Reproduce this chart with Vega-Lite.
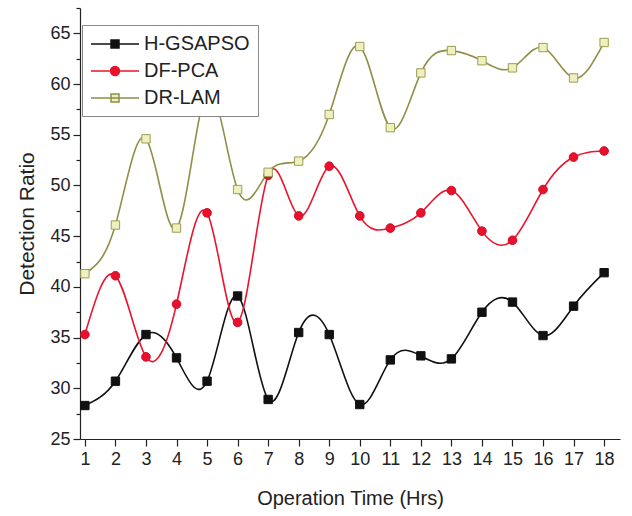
{
  "$schema": "https://vega.github.io/schema/vega-lite/v6.json",
  "width": 540,
  "height": 431,
  "autosize": {"type": "none"},
  "padding": {"left": 80, "top": 8, "right": 12, "bottom": 77},
  "background": "white",
  "config": {
    "view": {"stroke": null},
    "font": "Liberation Sans",
    "axis": {
      "grid": false,
      "domainColor": "#222",
      "tickColor": "#222",
      "labelColor": "#222",
      "titleColor": "#222",
      "labelFont": "Liberation Sans",
      "titleFont": "Liberation Sans",
      "titleFontWeight": "normal",
      "labelFontSize": 18,
      "domainWidth": 1.2,
      "tickWidth": 1.2
    }
  },
  "data": {
    "values": [
      {"t": 1, "series": "H-GSAPSO", "v": 28.3},
      {"t": 2, "series": "H-GSAPSO", "v": 30.7},
      {"t": 3, "series": "H-GSAPSO", "v": 35.3},
      {"t": 4, "series": "H-GSAPSO", "v": 33.0},
      {"t": 5, "series": "H-GSAPSO", "v": 30.7},
      {"t": 6, "series": "H-GSAPSO", "v": 39.1},
      {"t": 7, "series": "H-GSAPSO", "v": 28.9},
      {"t": 8, "series": "H-GSAPSO", "v": 35.5},
      {"t": 9, "series": "H-GSAPSO", "v": 35.3},
      {"t": 10, "series": "H-GSAPSO", "v": 28.4},
      {"t": 11, "series": "H-GSAPSO", "v": 32.8},
      {"t": 12, "series": "H-GSAPSO", "v": 33.2},
      {"t": 13, "series": "H-GSAPSO", "v": 32.9},
      {"t": 14, "series": "H-GSAPSO", "v": 37.5},
      {"t": 15, "series": "H-GSAPSO", "v": 38.5},
      {"t": 16, "series": "H-GSAPSO", "v": 35.2},
      {"t": 17, "series": "H-GSAPSO", "v": 38.1},
      {"t": 18, "series": "H-GSAPSO", "v": 41.4},
      {"t": 1, "series": "DF-PCA", "v": 35.3},
      {"t": 2, "series": "DF-PCA", "v": 41.1},
      {"t": 3, "series": "DF-PCA", "v": 33.1},
      {"t": 4, "series": "DF-PCA", "v": 38.3},
      {"t": 5, "series": "DF-PCA", "v": 47.3},
      {"t": 6, "series": "DF-PCA", "v": 36.5},
      {"t": 7, "series": "DF-PCA", "v": 51.0},
      {"t": 8, "series": "DF-PCA", "v": 47.0},
      {"t": 9, "series": "DF-PCA", "v": 51.9},
      {"t": 10, "series": "DF-PCA", "v": 47.0},
      {"t": 11, "series": "DF-PCA", "v": 45.8},
      {"t": 12, "series": "DF-PCA", "v": 47.3},
      {"t": 13, "series": "DF-PCA", "v": 49.5},
      {"t": 14, "series": "DF-PCA", "v": 45.5},
      {"t": 15, "series": "DF-PCA", "v": 44.6},
      {"t": 16, "series": "DF-PCA", "v": 49.6},
      {"t": 17, "series": "DF-PCA", "v": 52.8},
      {"t": 18, "series": "DF-PCA", "v": 53.4},
      {"t": 1, "series": "DR-LAM", "v": 41.3},
      {"t": 2, "series": "DR-LAM", "v": 46.1},
      {"t": 3, "series": "DR-LAM", "v": 54.6},
      {"t": 4, "series": "DR-LAM", "v": 45.8},
      {"t": 5, "series": "DR-LAM", "v": 59.2},
      {"t": 6, "series": "DR-LAM", "v": 49.6},
      {"t": 7, "series": "DR-LAM", "v": 51.3},
      {"t": 8, "series": "DR-LAM", "v": 52.4},
      {"t": 9, "series": "DR-LAM", "v": 57.0},
      {"t": 10, "series": "DR-LAM", "v": 63.7},
      {"t": 11, "series": "DR-LAM", "v": 55.7},
      {"t": 12, "series": "DR-LAM", "v": 61.1},
      {"t": 13, "series": "DR-LAM", "v": 63.3},
      {"t": 14, "series": "DR-LAM", "v": 62.3},
      {"t": 15, "series": "DR-LAM", "v": 61.6},
      {"t": 16, "series": "DR-LAM", "v": 63.6},
      {"t": 17, "series": "DR-LAM", "v": 60.6},
      {"t": 18, "series": "DR-LAM", "v": 64.1}
    ]
  },
  "encoding": {
    "x": {
      "field": "t",
      "type": "quantitative",
      "scale": {"domain": [0.84, 18.52], "nice": false, "zero": false},
      "axis": {
        "title": "Operation Time (Hrs)",
        "titleFontSize": 20,
        "titlePadding": 20,
        "format": "d",
        "values": [1, 1.5, 2, 2.5, 3, 3.5, 4, 4.5, 5, 5.5, 6, 6.5, 7, 7.5, 8, 8.5, 9, 9.5, 10, 10.5, 11, 11.5, 12, 12.5, 13, 13.5, 14, 14.5, 15, 15.5, 16, 16.5, 17, 17.5, 18, 18.5],
        "labelExpr": "datum.value % 1 == 0 ? datum.label : ''",
        "tickSize": {"condition": {"test": "datum.value % 1 != 0", "value": 4}, "value": 7},
        "labelPadding": 4,
        "labelFlush": false,
        "labelOverlap": false
      }
    },
    "y": {
      "field": "v",
      "type": "quantitative",
      "scale": {"domain": [25, 67.5], "nice": false, "zero": false},
      "axis": {
        "title": "Detection Ratio",
        "titleFontSize": 21,
        "titlePadding": 12,
        "format": "d",
        "values": [25, 27.5, 30, 32.5, 35, 37.5, 40, 42.5, 45, 47.5, 50, 52.5, 55, 57.5, 60, 62.5, 65, 67.5],
        "labelExpr": "datum.value % 5 == 0 ? datum.label : ''",
        "tickSize": {"condition": {"test": "datum.value % 5 != 0", "value": 4}, "value": 7},
        "labelPadding": 3,
        "labelFlush": false,
        "labelOverlap": false
      }
    }
  },
  "layer": [
    {
      "mark": {"type": "line", "interpolate": "natural", "strokeWidth": 1.6},
      "encoding": {
        "stroke": {
          "field": "series",
          "type": "nominal",
          "scale": {"domain": ["H-GSAPSO", "DF-PCA", "DR-LAM"], "range": ["#111111", "#e8152c", "#8f8f48"]},
          "legend": {
            "title": null,
            "orient": "none",
            "legendX": 2,
            "legendY": 17,
            "fillColor": "white",
            "strokeColor": "#888888",
            "padding": 8,
            "rowPadding": 6,
            "labelFontSize": 20,
            "labelFont": "Liberation Sans",
            "labelColor": "#222",
            "labelOffset": 32,
            "symbolSize": 400,
            "symbolStrokeWidth": 1.5,
            "encode": {
              "symbols": {
                "update": {
                  "shape": {"signal": "datum.value == 'DF-PCA' ? 'M-1,0H3.8M1.85,0A0.45,0.45,0,1,1,0.95,0A0.45,0.45,0,1,1,1.85,0Z' : 'M-1,0H3.8M1,-0.4H1.8V0.4H1Z'"},
                  "fill": {"signal": "datum.value == 'DR-LAM' ? '#efefc0' : datum.value == 'DF-PCA' ? '#e8102a' : '#111111'"}
                }
              }
            }
          }
        }
      }
    },
    {
      "transform": [{"filter": "datum.series == 'H-GSAPSO'"}],
      "mark": {"type": "point", "shape": "square", "size": 70, "filled": true, "fill": "#111111", "stroke": "#111111", "strokeWidth": 1, "opacity": 1}
    },
    {
      "transform": [{"filter": "datum.series == 'DF-PCA'"}],
      "mark": {"type": "point", "shape": "circle", "size": 75, "filled": true, "fill": "#e8102a", "stroke": "#d0102a", "strokeWidth": 1, "opacity": 1}
    },
    {
      "transform": [{"filter": "datum.series == 'DR-LAM'"}],
      "mark": {"type": "point", "shape": "square", "size": 70, "fill": "#efefc0", "stroke": "#9d9d55", "strokeWidth": 1, "opacity": 1}
    }
  ]
}
